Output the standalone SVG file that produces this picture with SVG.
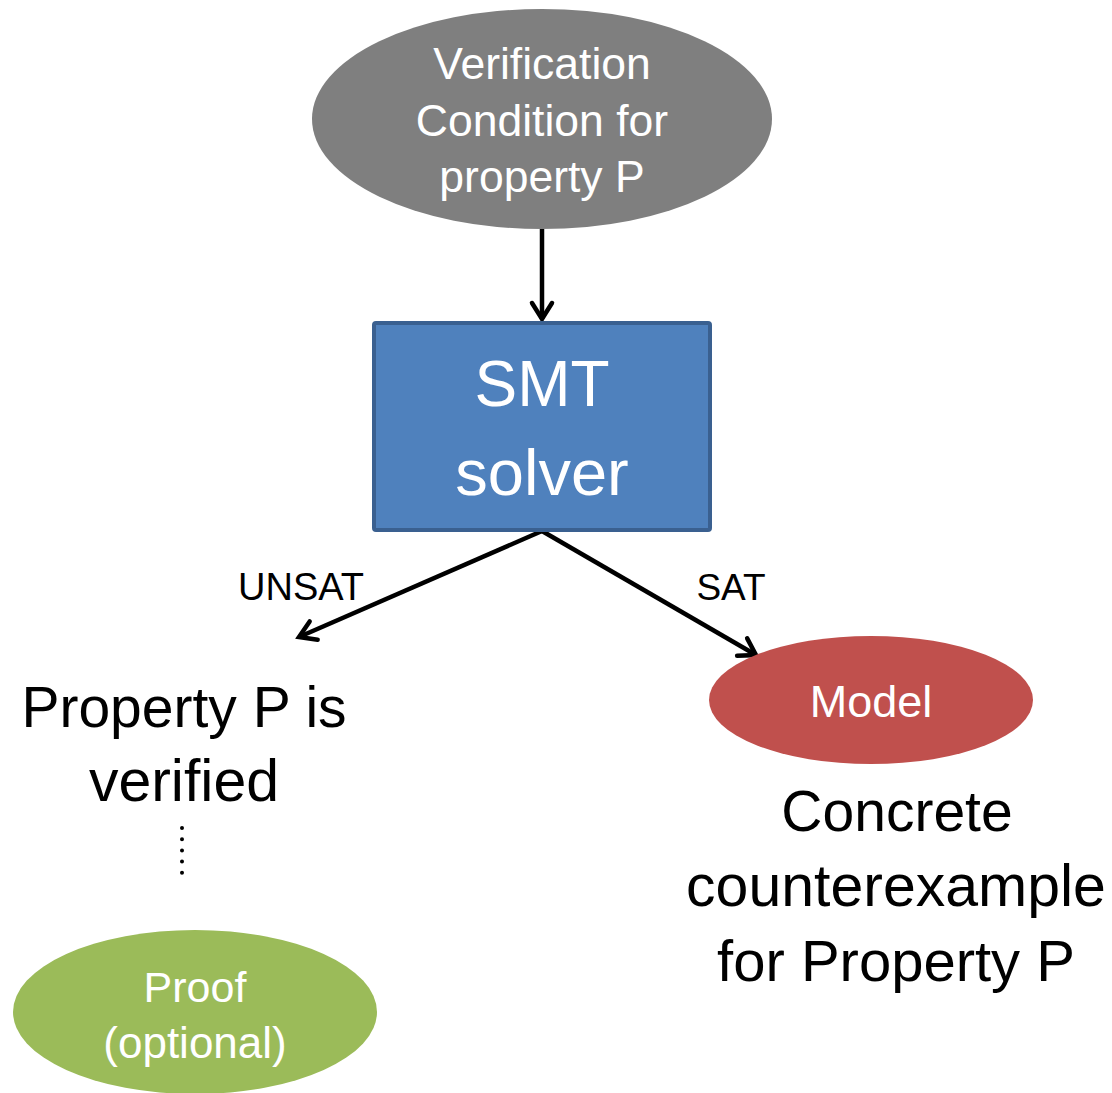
<svg xmlns="http://www.w3.org/2000/svg" width="1112" height="1093" viewBox="0 0 1112 1093">
<defs>
<style>
text{font-family:"Liberation Sans",Arial,sans-serif;text-anchor:middle}
.w{fill:#ffffff}
.k{fill:#000000}
.edge{stroke:#000;stroke-width:4.5;fill:none}
</style>
<marker id="arr" markerUnits="userSpaceOnUse" markerWidth="40" markerHeight="40" viewBox="-20 -20 40 40" refX="0" refY="0" orient="auto">
<path d="M-16,-10 L0,0 L-16,10" fill="none" stroke="#000" stroke-width="4.5" stroke-linecap="round" stroke-linejoin="miter"/>
</marker>
</defs>
<rect width="1112" height="1093" fill="#ffffff"/>
<g id="connectors">
<line class="edge" x1="542" y1="229" x2="542" y2="319" marker-end="url(#arr)"/>
<line class="edge" x1="542" y1="531" x2="299" y2="637" marker-end="url(#arr)"/>
<line class="edge" x1="542" y1="531" x2="756" y2="655" marker-end="url(#arr)"/>
<line x1="182" y1="828" x2="182" y2="876" stroke="#000" stroke-width="4" stroke-dasharray="0 11.2" stroke-linecap="round"/>
</g>
<g id="vc">
<ellipse cx="542" cy="119" rx="230" ry="110" fill="#7f7f7f"/>
<text class="w" x="542" y="79" font-size="44.5">Verification</text>
<text class="w" x="542" y="136" font-size="44.5">Condition for</text>
<text class="w" x="542" y="192" font-size="44.5">property P</text>
</g>
<g id="smt">
<rect x="374" y="323" width="336" height="207" fill="#4f81bd" stroke="#3a6090" stroke-width="4" rx="2"/>
<text class="w" x="542" y="406" font-size="64">SMT</text>
<text class="w" x="542" y="495" font-size="65">solver</text>
</g>
<g id="labels">
<text class="k" x="301" y="600" font-size="38">UNSAT</text>
<text class="k" x="731" y="600" font-size="37">SAT</text>
</g>
<g id="verified">
<text class="k" x="184" y="727" font-size="57">Property P is</text>
<text class="k" x="184" y="801" font-size="59">verified</text>
</g>
<g id="model">
<ellipse cx="871" cy="700" rx="162" ry="64" fill="#c0504d"/>
<text class="w" x="871" y="717" font-size="45">Model</text>
</g>
<g id="counterexample">
<text class="k" x="897" y="831" font-size="57">Concrete</text>
<text class="k" x="896" y="906" font-size="59">counterexample</text>
<text class="k" x="896" y="981" font-size="58">for Property P</text>
</g>
<g id="proof">
<ellipse cx="195" cy="1012" rx="182" ry="82" fill="#9bbb59"/>
<text class="w" x="195" y="1002" font-size="43">Proof</text>
<text class="w" x="195" y="1058" font-size="44">(optional)</text>
</g>
</svg>
